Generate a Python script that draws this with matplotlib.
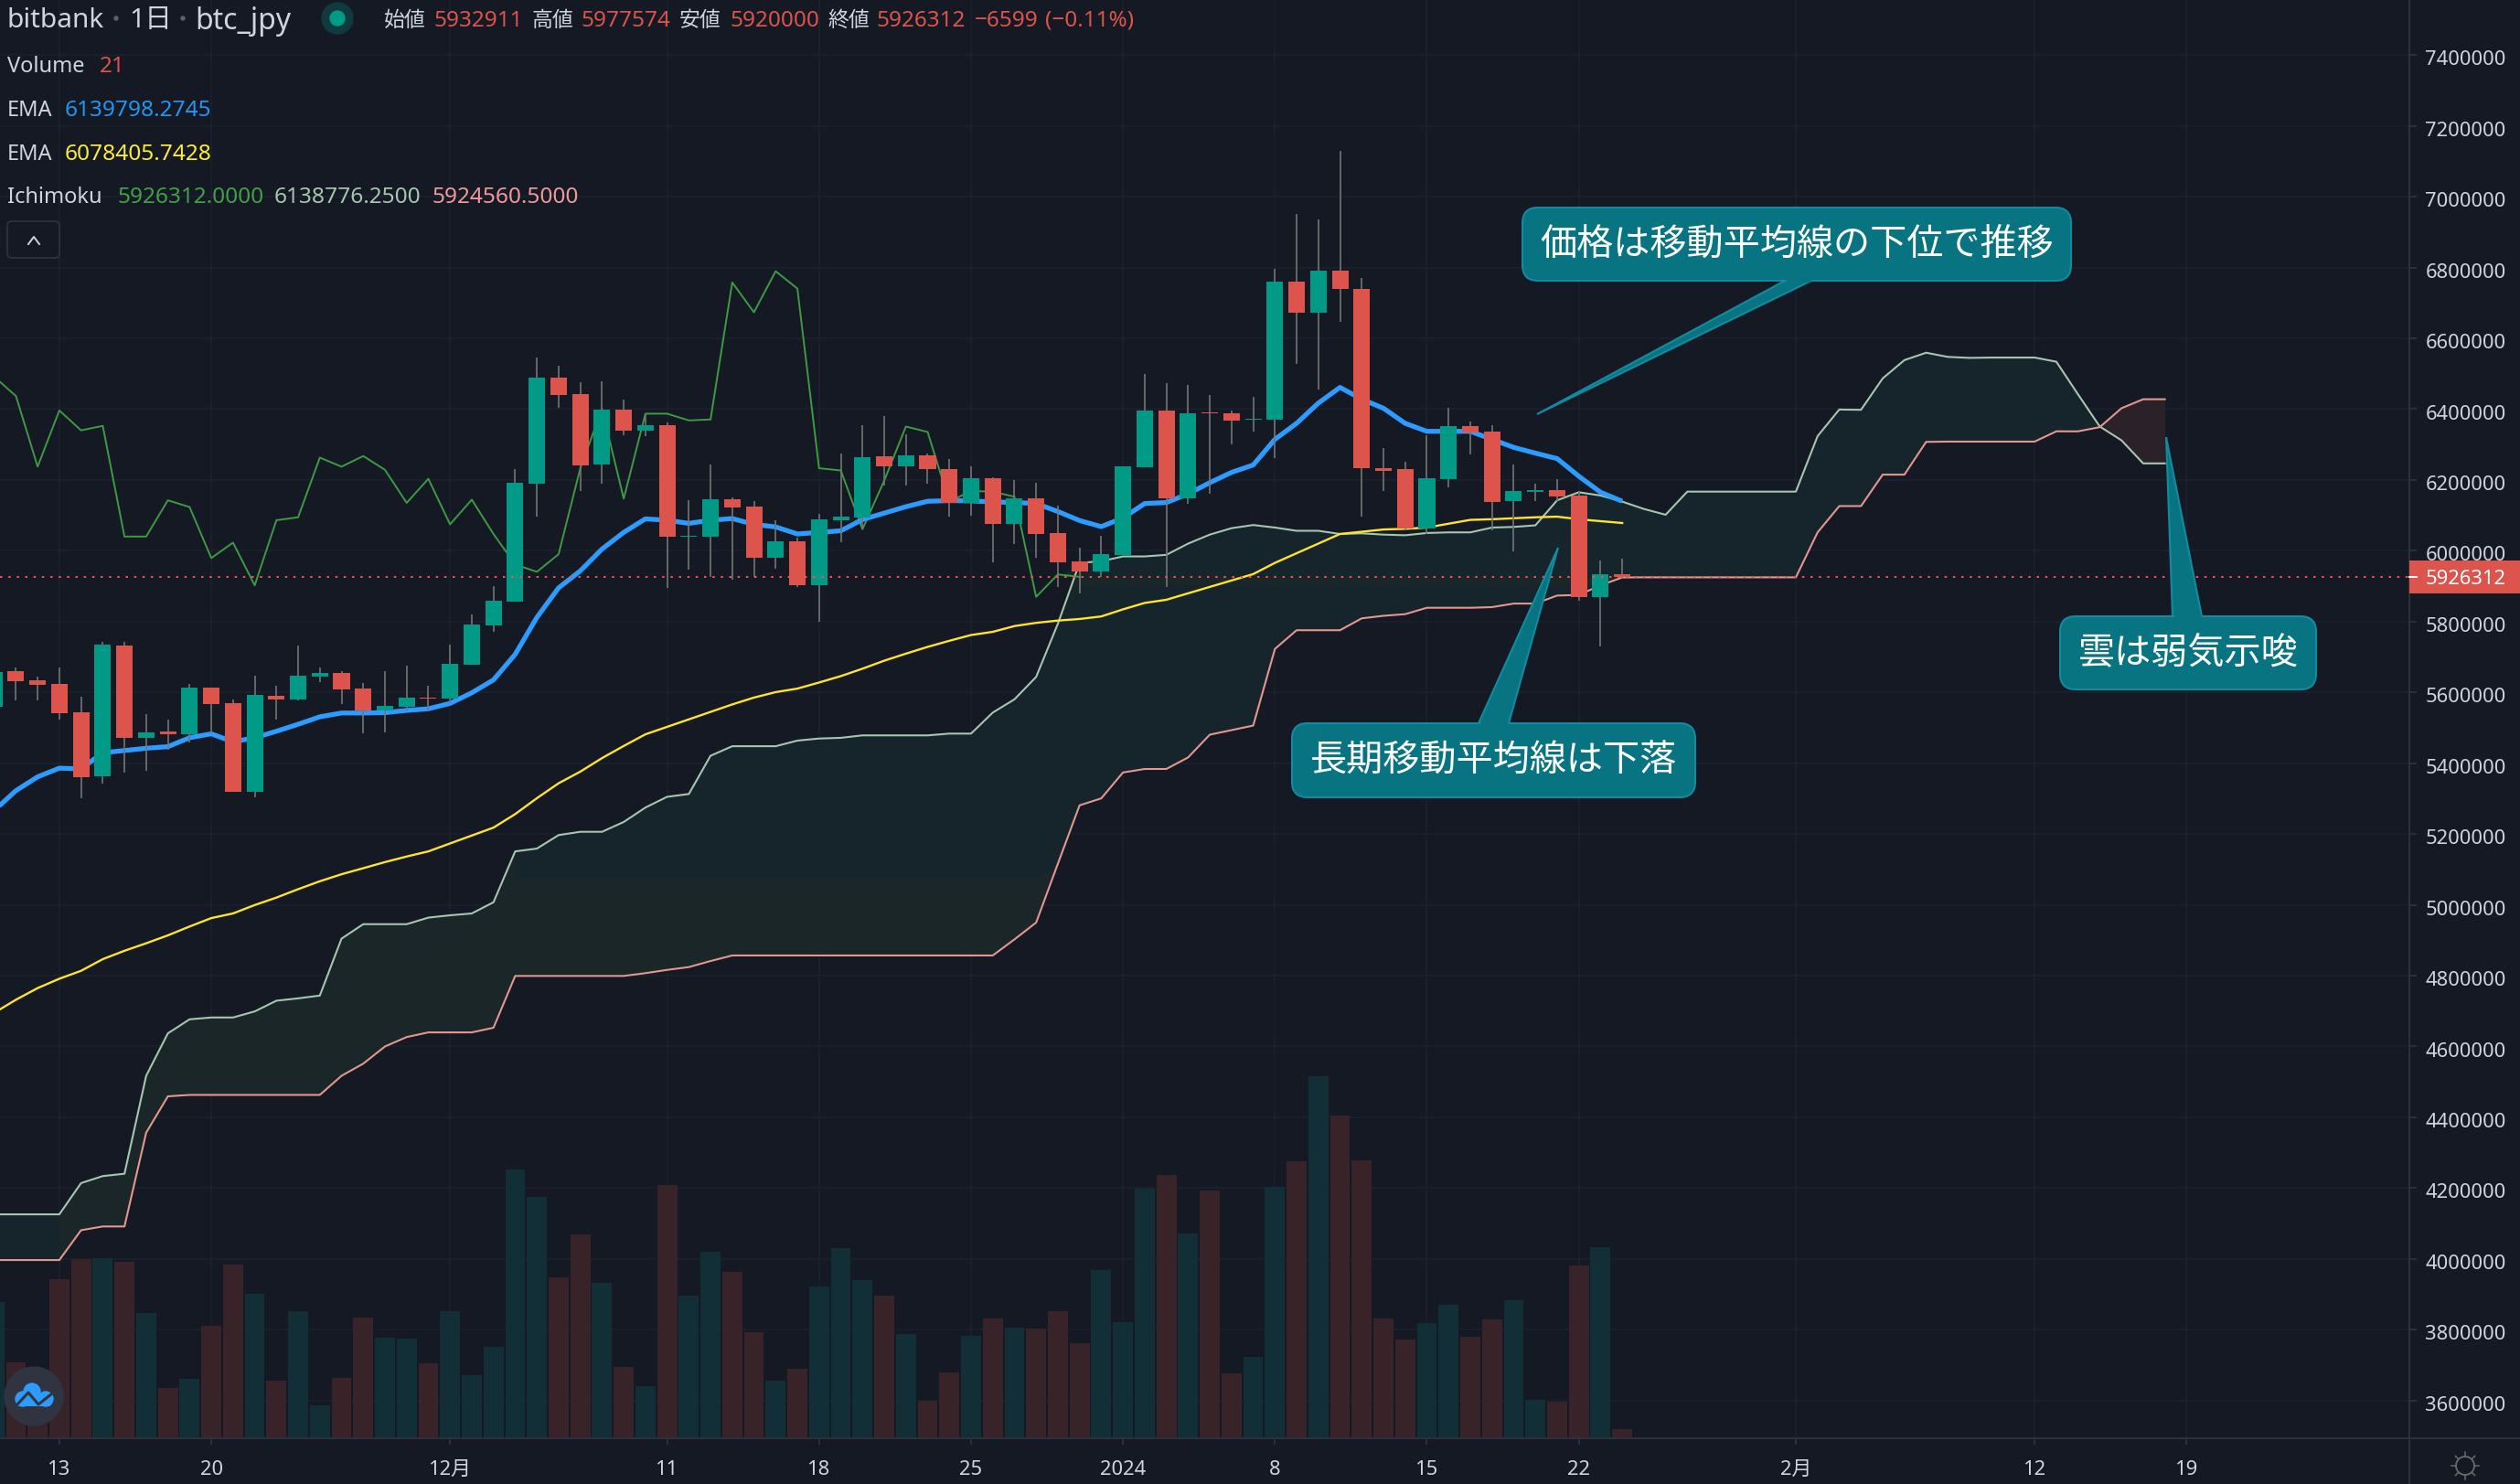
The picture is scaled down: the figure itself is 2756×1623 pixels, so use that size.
import numpy as np
import matplotlib
matplotlib.use("Agg")
from matplotlib import pyplot as plt
from matplotlib.patches import FancyBboxPatch, Polygon, Circle, Rectangle
from matplotlib.transforms import ScaledTranslation

plt.rcParams['font.family'] = ['Noto Sans', 'Noto Sans CJK JP', 'DejaVu Sans']

## Data (prices in thousand yen, days counted from 2023-11-13)

opens = [5560, 5659.6, 5634.2, 5623.4, 5543.6, 5364.3, 5732, 5472, 5489.3, 5483, 5613.4, 5569.9, 5319.9,
         5589.9, 5580.8, 5645, 5655, 5610.7, 5550, 5559, 5585.3, 5583.5, 5678.6, 5789.2, 5857.1, 6190.5,
         6489.5, 6442.4, 6244.9, 6398.9, 6340, 6354.5, 6040.1, 6040.1, 6145.2, 6125.3, 5981.2, 6026.5,
         5903.3, 6087.2, 6093.6, 6266.6, 6239.4, 6269.4, 6230.4, 6136.2, 6205, 6074.6, 6147, 6050.1,
         5970.4, 5941.4, 5987.6, 6235.8, 6396.2, 6147.9, 6389.8, 6388, 6369, 6370.8, 6760.4, 6673.4,
         6791.2, 6739.6, 6233.1, 6230.4, 6062.8, 6203.2, 6351.8, 6336.4, 6139.8, 6167, 6171.5, 6156.1,
         5869.8, 5932.9]
closes = [5657.8, 5632.4, 5621.6, 5541.8, 5361.5, 5734.8, 5472, 5486.5, 5483, 5613.4, 5568.1, 5319.9,
          5592.6, 5580.8, 5646.9, 5655, 5608.9, 5550, 5561.8, 5585.3, 5582.6, 5680.4, 5791.9, 5859,
          6192.3, 6489.5, 6438.8, 6242.2, 6398.9, 6340, 6354.5, 6040.1, 6041.9, 6145.2, 6123.5, 5981.2,
          6026.5, 5903.3, 6089, 6096.3, 6264.8, 6239.4, 6269.4, 6229.5, 6135.3, 6205, 6074.6, 6147, 6048.3,
          5968.6, 5941.4, 5990.3, 6238.5, 6396.2, 6147.9, 6388, 6387.1, 6368.1, 6371.7, 6760.4, 6673.4,
          6791.2, 6739.6, 6233.1, 6225.9, 6062.8, 6205, 6351.8, 6333.7, 6138.9, 6168.8, 6171.5, 6153.4,
          5869.8, 5933.2, 5926.3]
highs = [5670, 5670.5, 5644.2, 5670.5, 5588, 5742, 5742, 5538.2, 5522.8, 5623.4, 5613.4, 5579, 5646.9,
         5618.8, 5732, 5670.5, 5659.6, 5626, 5659.6, 5675.9, 5618.8, 5734.8, 5820, 5900.6, 6230.4, 6545.7,
         6523, 6475.9, 6478.6, 6427, 6387.1, 6362.7, 6143.4, 6244, 6150.7, 6140.7, 6086.3, 6038.3, 6104.5,
         6273.9, 6354.5, 6379.9, 6330, 6273.9, 6259.4, 6237.6, 6207.7, 6198.7, 6192.3, 6127.1, 6008.4, 6041,
         6238.5, 6499.5, 6473.2, 6468.7, 6439.7, 6396.2, 6435.1, 6797.5, 6951.6, 6936.2, 7129.1, 6770.4,
         6290.2, 6251.2, 6326.4, 6403.4, 6364.5, 6354.5, 6244, 6189.6, 6201.4, 6167, 5972.2, 5977.6]
lows = [5540, 5576.3, 5578.1, 5523.7, 5301.8, 5343.4, 5374.2, 5379.7, 5438.5, 5458.5, 5485.7, 5319.9,
        5304.5, 5523.7, 5578.1, 5628.8, 5567.2, 5485.7, 5487.5, 5549.1, 5547.3, 5569.9, 5678.6, 5771,
        5857.1, 6097.2, 6402.5, 6169.7, 6190.5, 6326.4, 6323.7, 5896.1, 5947.7, 5926.9, 5918.7, 5926.9,
        5949.5, 5897.9, 5798.2, 6024.7, 6060.9, 6183.3, 6185.1, 6190.5, 6097.2, 6099.9, 5968.6, 6020.2,
        5979.4, 5897.9, 5879.8, 5926.9, 5987.6, 6235.8, 5897.9, 6133.4, 6160.6, 6299.2, 6337.3, 6262.1,
        6527.6, 6455.1, 6647.2, 6097.2, 6169.7, 6056.5, 6047.4, 6178.7, 6272.1, 6056.5, 5999.4, 6140.7,
        6140.7, 5858.9, 5730.3, 5920]

volumes = [313.6, 175, 154, 366.1, 411.6, 414.4, 406, 288.4, 116.2, 137.2, 259, 399.7, 332.5, 133, 292.6,
           74.9, 139.3, 277.9, 231.7, 229.6, 172.9, 292.6, 145.6, 210.7, 618.1, 555.1, 370.3, 469, 357.7,
           164.5, 120.4, 582.4, 328.3, 429.1, 382.9, 244.3, 133, 160.3, 349.3, 437.5, 364, 328.3, 240.1,
           86.8, 151.9, 235.9, 275.8, 254.8, 252.7, 292.6, 219.1, 387.1, 267.4, 574, 605.5, 471.1, 569.8,
           149.8, 187.6, 578.2, 637, 832.3, 742, 639.1, 275.8, 227.5, 265.3, 307.3, 233.8, 273.7, 317.8,
           88.9, 84.7, 397.6, 439.6, 21]

ema_fast = [5266.4, 5322.6, 5361.5, 5386, 5384.2, 5429.5, 5435.8, 5442.2, 5446.7, 5472, 5483, 5460.3, 5472,
            5490.2, 5510, 5531, 5541.8, 5541.8, 5542.7, 5549.1, 5553.6, 5569, 5598.9, 5635.2, 5707.6, 5811.8,
            5895.2, 5943.2, 6004.8, 6051.9, 6090, 6086.3, 6077.3, 6086.3, 6090.9, 6074.6, 6067.3, 6047.4,
            6051.9, 6056.4, 6088.2, 6106.3, 6124.4, 6139.8, 6141.6, 6140.7, 6138, 6136.2, 6133.4, 6110.8,
            6085.4, 6068.2, 6092.7, 6133.4, 6136.2, 6160.6, 6192.3, 6221.3, 6242.2, 6314.7, 6359.9, 6417,
            6461.4, 6427.9, 6402.5, 6359.9, 6337.3, 6337.3, 6337.3, 6314.7, 6292, 6275.7, 6260.3, 6210.5,
            6165.2, 6139.8]
ema_slow = [4695.1, 4732, 4764.9, 4791.3, 4813.7, 4846.6, 4870.3, 4891.4, 4913.8, 4938.8, 4962.6, 4975.7,
            4999.4, 5020.5, 5044.2, 5066.6, 5086.4, 5103.5, 5120.7, 5136.5, 5151, 5173.4, 5195.7, 5218.1,
            5256.3, 5301.2, 5343.3, 5376.2, 5414.4, 5448.7, 5481.6, 5502.7, 5523.8, 5544.9, 5566, 5585.3,
            5600.7, 5610.7, 5627.9, 5646, 5666.9, 5689.5, 5709.4, 5728.5, 5745.7, 5762, 5771, 5787.3, 5796.4,
            5802.8, 5807.3, 5814.5, 5834.5, 5852.6, 5861.6, 5879.8, 5897.9, 5916, 5934.1, 5965.8, 5993,
            6020.2, 6047.4, 6053.7, 6060.1, 6061.9, 6065.5, 6076.4, 6087.2, 6089, 6091.8, 6094.5, 6096.3,
            6089, 6083.6, 6078.4]

chikou = [6491.3, 6437, 6237.6, 6396.2, 6340, 6352.7, 6040.1, 6040.1, 6142.5, 6123.5, 5979.4, 6022.9, 5902.4,
          6086.3, 6094.5, 6263, 6237.6, 6267.5, 6228.6, 6135.3, 6203.2, 6074.6, 6144.3, 6047.4, 5961.3, 5940.5,
          5990.3, 6233.1, 6400.7, 6147, 6387.1, 6387.1, 6368.1, 6370.8, 6757.7, 6673.4, 6789.4, 6740.5, 6233.1,
          6226.8, 6060.9, 6197.8, 6350.9, 6335.5, 6138.9, 6168.8, 6167, 6152.5, 5869.8, 5933.2, 5926.3]

span_a = [4125.9, 4125.9, 4125.9, 4125.9, 4214.2, 4234, 4240.6, 4517.2, 4637.1, 4676.7, 4681.9, 4681.9, 4699,
          4729.3, 4735.9, 4743.8, 4904.6, 4945.4, 4945.4, 4945.4, 4963.9, 4970.5, 4975.7, 5007.3, 5151, 5158.9,
          5197, 5206.3, 5206.3, 5234, 5274.8, 5305.1, 5313, 5421, 5448, 5448, 5448, 5463.8, 5469.7, 5471.7,
          5478.6, 5478.6, 5478.6, 5478.6, 5483.6, 5483.6, 5542.9, 5580.4, 5643.7, 5793.7, 5965.8, 5970.4, 5984,
          5984, 5988.5, 6020.2, 6045.6, 6063.7, 6072.7, 6065.5, 6056.4, 6056.4, 6047.4, 6049.2, 6045.6, 6043.8,
          6050.1, 6051.9, 6051.9, 6065.5, 6067.3, 6071.8, 6142.5, 6165.2, 6156.1, 6138.8, 6118, 6101.7, 6167,
          6167, 6167, 6167, 6167, 6167, 6323.7, 6398.9, 6398, 6486.8, 6538.4, 6559.3, 6547.5, 6544.7, 6545.6,
          6545.6, 6545.6, 6533.9, 6441.5, 6350.9, 6311.9, 6246.7, 6246.7]
span_b = [3996.8, 3996.8, 3996.8, 3996.8, 4081.1, 4091.7, 4091.7, 4356.5, 4459.2, 4463.2, 4463.2, 4463.2, 4463.2,
          4463.2, 4463.2, 4463.2, 4517.2, 4551.5, 4600, 4626.6, 4639.8, 4639.8, 4639.8, 4652.9, 4799.2, 4799.2,
          4799.2, 4799.2, 4799.2, 4799.2, 4807.1, 4816.3, 4824.2, 4841.3, 4857, 4857, 4857, 4857, 4857, 4857,
          4857, 4857, 4857, 4857, 4857, 4857, 4857, 4902.4, 4949.9, 5115.9, 5281, 5300.7, 5373.8, 5383.7, 5383.7,
          5416.3, 5480.6, 5493.4, 5506.3, 5722.7, 5775.6, 5775.6, 5775.6, 5809.1, 5816.3, 5820.9, 5839, 5839,
          5839, 5840.8, 5850.8, 5850.8, 5873.4, 5875.2, 5902.4, 5924.6, 5925, 5925, 5925, 5925, 5925, 5925, 5925,
          5925, 6051.9, 6126.2, 6126.2, 6215, 6215, 6307.4, 6308.3, 6308.3, 6308.3, 6308.3, 6308.3, 6337.3,
          6337.3, 6349.1, 6402.5, 6427.9, 6427.9]

last_price = 5926312
tick_days = [0, 7, 18, 28, 35, 42, 49, 56, 63, 70, 80, 91, 98]
tick_names = ['13', '20', '12月', '11', '18', '25', '2024', '8', '15', '22', '2月', '12', '19']
price_ticks = np.arange(3600000, 7400001, 200000)

## Colors

BG = '#141924'
GRID = '#1d222f'
AXE = '#2b303b'
TXT = '#d1d4dc'
UP = '#009a86'
DOWN = '#dc544b'
WICK = '#757575'
VOL_UP = '#122e37'
VOL_DOWN = '#382329'
CLOUD = '#1a2628'
CLOUD_DARK = '#16242b'
CALL_FILL = '#087482'
CALL_EDGE = '#128ba0'

## Figure and main axes

W, H = 2756, 1624
AX_R, AX_B = 2634.7, 1574
fig = plt.figure(figsize=(W / 100, H / 100), dpi=100, facecolor=BG)
ax = fig.add_axes([0, (H - AX_B) / H, AX_R / W, AX_B / H], facecolor=BG)

days_all = np.arange(-3, 98)
opens = np.array(opens) * 1000
closes = np.array(closes) * 1000
highs = np.array(highs) * 1000
lows = np.array(lows) * 1000
days = np.arange(-3, 73)
rising = closes >= opens
cols = np.where(rising, UP, DOWN)

# volume is pinned to the bottom of the pane with its own scale
vol_top = 3305.0
ax.bar(days, np.array(volumes) / vol_top, width=0.92, color=np.where(rising, VOL_UP, VOL_DOWN),
       transform=ax.get_xaxis_transform(), zorder=1)

# cloud
a = np.array(span_a) * 1000
b = np.array(span_b) * 1000
ax.fill_between(days_all, a, b, where=a >= b, interpolate=True, color=CLOUD, lw=0, zorder=1.2)
ax.fill_between(days_all, a, b, where=a < b, interpolate=True, color='#2b2229', lw=0, zorder=1.2)

# the screenshot's cloud turns darker and bluer in these parts
for lo, hi in [(5076000, 5904000), (5926000, 7000000)]:
    ax.fill_between(days_all, np.clip(b, lo, hi), np.clip(a, lo, hi), where=(a >= b) & (days_all >= 21),
                    color=CLOUD_DARK, lw=0, zorder=1.25)
ax.fill_between(days_all, a, b, where=days_all <= 0, color=CLOUD_DARK, lw=0, zorder=1.25)

ax.plot(days_all, a, color='#a6c6b0', lw=1.5, zorder=2)
ax.plot(days_all, b, color='#e4978f', lw=1.5, zorder=2)

ax.plot(np.arange(-3, 48), np.array(chikou) * 1000, color='#3f9a44', lw=1.4, zorder=2)
ax.plot(days, np.array(ema_slow) * 1000, color='#ffe42e', lw=1.7, zorder=2.2)
ax.plot(days, np.array(ema_fast) * 1000, color='#2e9bff', lw=3.8, zorder=2.3, solid_capstyle='butt')

# candles
ax.vlines(days, lows, highs, color=WICK, lw=1.2, zorder=3)
ax.bar(days, np.abs(closes - opens), bottom=np.minimum(opens, closes), width=0.76, color=cols, zorder=3.1)

ax.axhline(last_price, color='#e8554c', lw=1.5, dashes=(1.2, 3.2), zorder=4)

ax.set_xlim(-2.734, 108.25)
ax.set_ylim(3493480, 7558000)

ax.set_xticks(tick_days)
ax.set_xticklabels(tick_names)
ax.set_yticks(price_ticks)
ax.set_yticklabels([str(p) for p in price_ticks])
ax.yaxis.tick_right()
ax.tick_params(axis='x', length=5, width=1.4, color=AXE, labelcolor=TXT, labelsize=15.8, pad=11.5)
ax.tick_params(axis='y', length=5.8, width=1.4, color=AXE, labelcolor=TXT, labelsize=15.8, pad=7)
for lab in ax.get_xticklabels():
    if lab.get_text() == '2024':
        lab.set_fontweight('bold')
# price labels sit a little lower than matplotlib centers them
nudge = ScaledTranslation(0, -1.5 / 72, fig.dpi_scale_trans)
for lab in ax.get_yticklabels():
    lab.set_transform(lab.get_transform() + nudge)
ax.grid(True, color=GRID, lw=1.1)
ax.set_axisbelow(True)
for s in ['top', 'left']:
    ax.spines[s].set_visible(False)
for s in ['right', 'bottom']:
    ax.spines[s].set_color(AXE)
    ax.spines[s].set_linewidth(1.5)

## Overlay in pixel coordinates for the chart's header, callouts and icons

ui = fig.add_axes([0, 0, 1, 1], facecolor='none', zorder=10)
ui.set_xlim(0, W)
ui.set_ylim(H, 0)
ui.axis('off')

ui.plot([AX_R, W], [AX_B, AX_B], color=AXE, lw=1.5)
ui.plot([AX_R, AX_R], [AX_B, H], color=AXE, lw=1.5)


def label(x, y, s, col=TXT, size=17, **kw):
    ui.text(x, y, s, color=col, fontsize=size, va='center', ha=kw.pop('ha', 'left'), **kw)


# header
label(8, 23, 'bitbank', size=21.5)
ui.add_patch(Circle((127, 21), 2, color='#5c616c'))
label(141, 23, '1日', size=21.5)
ui.add_patch(Circle((200, 21), 2, color='#5c616c'))
label(213, 23, 'btc_jpy', size=23)
ui.add_patch(Circle((369, 21), 17, color='#0f3a40'))
ui.add_patch(Circle((369, 21), 8, color='#009a86'))
for x, name, x2, val in [(420, '始値', 474, '5932911'), (582, '高値', 635, '5977574'),
                         (743, '安値', 798, '5920000'), (905.5, '終値', 958.5, '5926312')]:
    label(x, 23, name, size=16.5)
    label(x2, 23, val, DOWN, size=17.5)
label(1065.5, 23, '−6599', DOWN, size=17.5)
label(1142.5, 23, '(−0.11%)', DOWN, size=17.5)

label(8, 73, 'Volume')
label(109, 73, '21', DOWN, size=17.5)
label(8, 121, 'EMA')
label(71, 121, '6139798.2745', '#2196f3', size=17.6)
label(8, 169, 'EMA')
label(71, 169, '6078405.7428', '#ffeb3b', size=17.6)
label(8, 216, 'Ichimoku')
label(128.5, 216, '5926312.0000', '#43a047', size=17.6)
label(300, 216, '6138776.2500', '#a6c6b0', size=17.6)
label(472.5, 216, '5924560.5000', '#ef9a9a', size=17.6)

ui.add_patch(FancyBboxPatch((8, 243), 57, 40, boxstyle='round,pad=0,rounding_size=5',
                            fc='none', ec=AXE, lw=1.4))
ui.plot([31, 37, 43], [268, 260, 268], color=TXT, lw=1.4)

# last price tag
ui.add_patch(Rectangle((AX_R, 614), W - AX_R, 36, color=DOWN, lw=0))
ui.plot([AX_R, AX_R + 8], [632, 632], color='white', lw=1.4)
label(2653, 634, str(last_price), 'white', size=15.8)


def callout(x0, y0, x1, y1, base0, base1, tip, s):
    tail_y = y0 if tip[1] < y0 else y1
    ui.add_patch(FancyBboxPatch((x0, y0), x1 - x0, y1 - y0, boxstyle='round,pad=0,rounding_size=17',
                                fc=CALL_FILL, ec=CALL_EDGE, lw=1.5))
    ui.add_patch(Polygon([(base0, tail_y), tip, (base1, tail_y)], closed=True,
                         fc=CALL_FILL, ec=CALL_EDGE, lw=1.5))
    ui.plot([base0 + 1.5, base1 - 1.5], [tail_y, tail_y], color=CALL_FILL, lw=2.5, solid_capstyle='butt')
    ui.text((x0 + x1) / 2, (y0 + y1) / 2, s, color='white', fontsize=28.9, ha='center', va='center',
            family=['Noto Sans CJK JP', 'DejaVu Sans'])


callout(1665, 228, 2265, 308, 1952, 1981, (1681, 454), '価格は移動平均線の下位で推移')
callout(1413, 792, 1854, 873, 1617, 1650, (1704, 600), '長期移動平均線は下落')
callout(2253, 675, 2533, 755, 2376, 2408, (2369, 479), '雲は弱気示唆')

# logo
ui.add_patch(Circle((37, 1528), 32, color='#2f3440'))
for cx, cy, r in [(35, 1523, 9), (25, 1531, 8), (50, 1531, 8)]:
    ui.add_patch(Circle((cx, cy), r, color='#2e9bff'))
ui.add_patch(Rectangle((20, 1526), 35, 13, color='#2e9bff', lw=0))
ui.plot([18, 31, 42, 57], [1538, 1524, 1537, 1525], color='#2f3440', lw=2.2)

# sun icon
ui.add_patch(Circle((2696, 1604), 10, fc='none', ec='#6b6b6b', lw=1.3))
for ang in np.arange(0, 360, 45):
    t = np.radians(ang)
    ui.plot([2696 + 11 * np.cos(t), 2696 + 15 * np.cos(t)], [1604 + 11 * np.sin(t), 1604 + 15 * np.sin(t)],
            color='#6b6b6b', lw=1.1)

fig.savefig('out.png', dpi=100, facecolor=BG)
